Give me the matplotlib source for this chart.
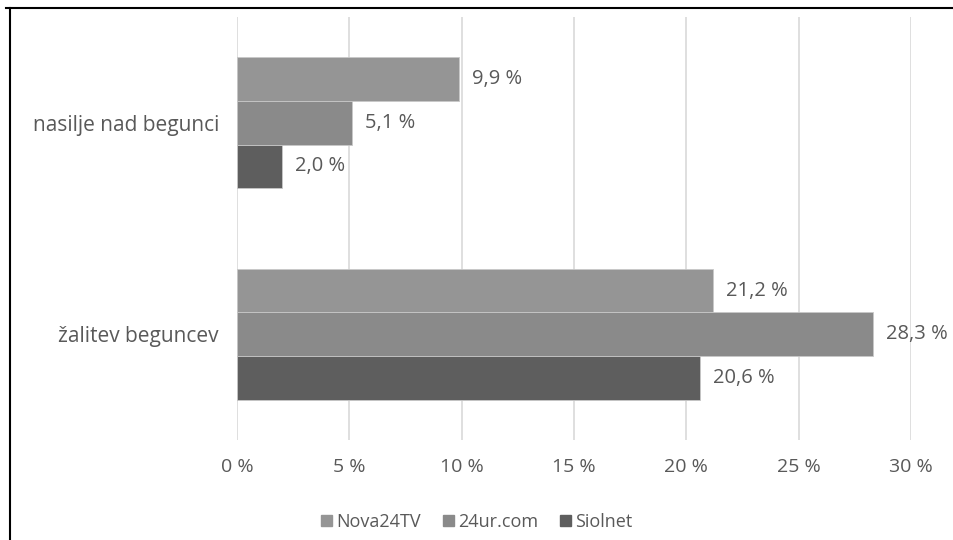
import numpy as np
import matplotlib.pyplot as plt
from matplotlib.lines import Line2D

plt.rcParams['font.family'] = ['Open Sans', 'DejaVu Sans']

categories = ['žalitev beguncev', 'nasilje nad begunci']
series = ['Nova24TV', '24ur.com', 'Siolnet']
values = {
    'Nova24TV': [21.2, 9.9],
    '24ur.com': [28.3, 5.1],
    'Siolnet': [20.6, 2.0],
}
colors = {'Nova24TV': '#959595', '24ur.com': '#8a8a8a', 'Siolnet': '#5e5e5e'}
xticks = [0, 5, 10, 15, 20, 25, 30]

text_color = '#595959'

fig = plt.figure(figsize=(9.54, 5.4), dpi=100)
ax = fig.add_axes([237 / 954, 1 - 440 / 540, (911 - 237) / 954, 423 / 540])

y = np.arange(len(categories)) + 0.5
h = 0.206
offsets = {'Nova24TV': h, '24ur.com': 0.0, 'Siolnet': -h}
for s in series:
    bars = ax.barh(y + offsets[s], values[s], height=h, color=colors[s],
                   edgecolor='#c8c8c8', linewidth=0.6, label=s, zorder=3)
    for b, v in zip(bars, values[s]):
        ax.annotate(f'{v:.1f} %'.replace('.', ','),
                    (b.get_width(), b.get_y() + b.get_height() / 2),
                    xytext=(13, 0), textcoords='offset pixels',
                    ha='left', va='center', fontsize=14.5, color=text_color)

ax.set_xlim(0, 30)
ax.set_ylim(0, 2)
ax.set_xticks(xticks)
ax.set_xticklabels([f'{t} %' for t in xticks], fontsize=14, color=text_color)
ax.set_yticks(y)
ax.set_yticklabels(categories, fontsize=15, color=text_color)
ax.tick_params(axis='both', length=0)
ax.tick_params(axis='x', pad=13)
ax.tick_params(axis='y', pad=13)
ax.grid(axis='x', color='#d9d9d9', linewidth=1.2, zorder=0)
for sp in ax.spines.values():
    sp.set_visible(False)

handles = [plt.Rectangle((0, 0), 1, 1, color=colors[s]) for s in series]
fig.legend(handles, series, loc='center', bbox_to_anchor=(0.5, 1 - 522 / 540),
           ncol=3, frameon=False, fontsize=13, handlelength=0.6, handleheight=0.6,
           handletextpad=0.25, columnspacing=1.2, labelcolor=text_color)

# outer frame (top and left edges visible)
fig.add_artist(Line2D([6 / 954, 1], [1 - 8 / 540, 1 - 8 / 540], color='black',
                      linewidth=1.5, transform=fig.transFigure))
fig.add_artist(Line2D([10 / 954, 10 / 954], [0, 1 - 8 / 540], color='black',
                      linewidth=1.5, transform=fig.transFigure))

fig.savefig('out.png', dpi=100)
